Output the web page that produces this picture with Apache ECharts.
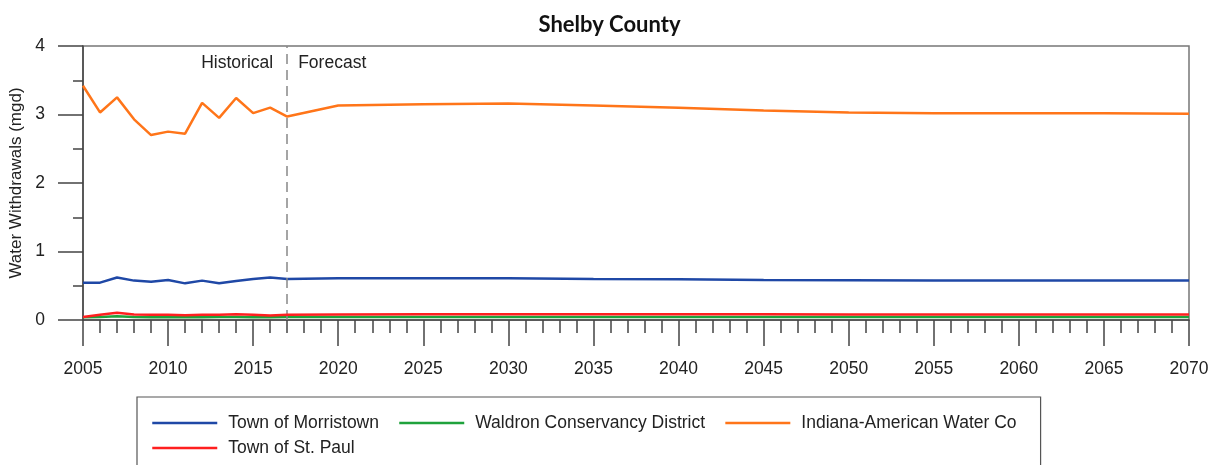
<!DOCTYPE html>
<html>
<head>
<meta charset="utf-8">
<script src="https://cdn.jsdelivr.net/npm/echarts@6/dist/echarts.min.js"></script>
<style>
  html, body { margin: 0; padding: 0; background: #fff; }
  #chart { width: 1219px; height: 465px; }
</style>
</head>
<body>
<div id="chart"></div>
<script>
// Years: annual record through 2017, then forecast points every five years
const years = [2005, 2006, 2007, 2008, 2009, 2010, 2011, 2012, 2013, 2014, 2015, 2016, 2017,
               2020, 2025, 2030, 2035, 2040, 2045, 2050, 2055, 2060, 2065, 2070];

// Withdrawals in million gallons per day
const morristown = [0.545, 0.545, 0.62, 0.575, 0.56, 0.585, 0.535, 0.575, 0.535, 0.57, 0.60, 0.62, 0.60,
                    0.61, 0.61, 0.61, 0.60, 0.595, 0.585, 0.58, 0.575, 0.575, 0.575, 0.575];
const waldron = [0.04, 0.045, 0.055, 0.045, 0.04, 0.04, 0.04, 0.04, 0.045, 0.045, 0.04, 0.04, 0.045,
                 0.045, 0.045, 0.045, 0.045, 0.045, 0.045, 0.045, 0.045, 0.045, 0.045, 0.045];
const indianaAmerican = [3.42, 3.03, 3.25, 2.93, 2.70, 2.75, 2.72, 3.17, 2.95, 3.24, 3.02, 3.10, 2.97,
                         3.13, 3.15, 3.16, 3.13, 3.10, 3.06, 3.03, 3.02, 3.02, 3.02, 3.01];
const stPaul = [0.045, 0.075, 0.105, 0.08, 0.075, 0.075, 0.07, 0.075, 0.075, 0.085, 0.075, 0.065, 0.075,
                0.08, 0.085, 0.085, 0.085, 0.085, 0.085, 0.08, 0.08, 0.08, 0.08, 0.08];

const seriesNames = ['Town of Morristown', 'Waldron Conservancy District', 'Indiana-American Water Co', 'Town of St. Paul'];
const seriesColors = ['#1f48a6', '#1fa23c', '#ff7519', '#ff1f1f'];
const seriesValues = [morristown, waldron, indianaAmerican, stPaul];

const splitYear = 2017;
const phaseLabels = ['Historical', 'Forecast'];

const font = '"Liberation Sans", Arial, sans-serif';
const fontSize = 17.5;
const axisColor = '#444';

const chart = echarts.init(document.getElementById('chart'), null, { renderer: 'canvas' });

const series = seriesNames.map((name, i) => ({
  name: name,
  type: 'line',
  symbol: 'none',
  data: years.map((y, k) => [y, seriesValues[i][k]]),
  lineStyle: { width: 2.5, color: seriesColors[i] },
  itemStyle: { color: seriesColors[i] },
  z: 3 + i
}));

series[0].markLine = {
  silent: true,
  symbol: 'none',
  label: { show: false },
  lineStyle: { color: '#888', type: [10, 6], width: 1.5 },
  data: [{ xAxis: splitYear }]
};

chart.setOption({
  animation: false,
  backgroundColor: '#fff',
  title: {
    text: 'Shelby County',
    left: 'center',
    top: 9,
    textStyle: { fontFamily: 'Lato, "Open Sans", sans-serif', fontWeight: 'bold', fontSize: 22, color: '#111' }
  },
  grid: {
    left: 83, right: 30, top: 46, bottom: 145,
    outerBoundsMode: 'none',
    containLabel: false,
    show: true, borderColor: '#777', borderWidth: 1.5, backgroundColor: 'transparent'
  },
  legend: {
    data: seriesNames,
    left: 137, top: 397,
    width: 880,
    orient: 'horizontal',
    padding: [17, 12, 40, 14],
    borderColor: '#555', borderWidth: 1.2, borderRadius: 0,
    itemWidth: 65, itemHeight: 14, itemGap: 7,
    itemStyle: { opacity: 0 },
    lineStyle: { width: 2.5 },
    textStyle: { fontFamily: font, fontSize: fontSize, color: '#222', lineHeight: 15, padding: [0, 12, 0, 6] }
  },
  xAxis: {
    type: 'value',
    min: 2005, max: 2070, interval: 5,
    axisLine: { show: true, onZero: false, lineStyle: { color: axisColor, width: 1.5 } },
    axisTick: { show: true, length: 26, lineStyle: { color: axisColor, width: 1.5 } },
    minorTick: { show: true, splitNumber: 5, length: 13, lineStyle: { color: axisColor, width: 1.5 } },
    splitLine: { show: false },
    axisLabel: { margin: 40, fontFamily: font, fontSize: fontSize, color: '#222', formatter: v => String(v) }
  },
  yAxis: {
    type: 'value',
    min: 0, max: 4, interval: 1,
    name: 'Water Withdrawals (mgd)',
    nameLocation: 'middle',
    nameGap: 55,
    nameTextStyle: { fontFamily: font, fontSize: 17, color: '#222' },
    axisLine: { show: true, lineStyle: { color: axisColor, width: 1.5 } },
    axisTick: { show: true, length: 25, lineStyle: { color: axisColor, width: 1.5 } },
    minorTick: { show: true, splitNumber: 2, length: 10, lineStyle: { color: axisColor, width: 1.5 } },
    splitLine: { show: false },
    axisLabel: { margin: 38, fontFamily: font, fontSize: fontSize, color: '#222' }
  },
  series: series
});

// Period captions on either side of the historical/forecast divider
const splitX = chart.convertToPixel({ xAxisIndex: 0 }, splitYear);
const captionY = chart.convertToPixel({ yAxisIndex: 0 }, 3.75);
chart.setOption({
  graphic: [
    {
      type: 'text', x: splitX - 14, y: captionY,
      style: { text: phaseLabels[0], align: 'right', verticalAlign: 'middle', font: fontSize + 'px ' + font, fill: '#222' }
    },
    {
      type: 'text', x: splitX + 11, y: captionY,
      style: { text: phaseLabels[1], align: 'left', verticalAlign: 'middle', font: fontSize + 'px ' + font, fill: '#222' }
    }
  ]
});
</script>
</body>
</html>
